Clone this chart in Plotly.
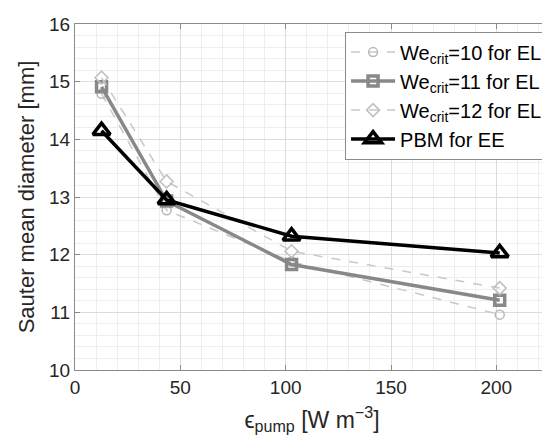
import plotly.graph_objects as go

x_pts = [12.6, 43.5, 102.8, 201.6]
we10 = [14.79, 12.77, 11.88, 10.96]
we11 = [14.91, 12.93, 11.83, 11.21]
we12 = [15.07, 13.27, 12.06, 11.42]
pbm = [14.15, 12.95, 12.32, 12.03]

names = ["We<sub>crit</sub>=10 for EL", "We<sub>crit</sub>=11 for EL",
         "We<sub>crit</sub>=12 for EL", "PBM for EE"]

FONT = "Liberation Sans, Arial, sans-serif"
fig = go.Figure()
fig.add_trace(go.Scatter(x=x_pts, y=we10, name=names[0], mode="lines+markers",
                         line=dict(color="#c8c8c8", width=1.5, dash="dash"),
                         marker=dict(symbol="circle-open", size=9, color="#b8b8b8", line=dict(width=1.5))))
fig.add_trace(go.Scatter(x=x_pts, y=we11, name=names[1], mode="lines+markers",
                         line=dict(color="#888888", width=3.5),
                         marker=dict(symbol="square-open", size=10, color="#888888", line=dict(width=3.5))))
fig.add_trace(go.Scatter(x=x_pts, y=we12, name=names[2], mode="lines+markers",
                         line=dict(color="#c8c8c8", width=1.5, dash="dash"),
                         marker=dict(symbol="diamond-open", size=10, color="#c0c0c0", line=dict(width=1.5))))
fig.add_trace(go.Scatter(x=x_pts, y=pbm, name=names[3], mode="lines+markers",
                         line=dict(color="#000000", width=3.5),
                         marker=dict(symbol="triangle-up-open", size=15, color="#000000", line=dict(width=3.5))))

axis_common = dict(showline=True, linecolor="#8a8a8a", linewidth=1.2, mirror="ticks",
                   ticks="inside", ticklen=5, tickcolor="#8a8a8a", automargin=False,
                   showgrid=True, gridcolor="#dcdcdc", gridwidth=1,
                   zeroline=False, tickfont=dict(size=19, color="#262626", family=FONT))

fig.update_xaxes(range=[0, 225], tickvals=[0, 50, 100, 150, 200],
                 minor=dict(dtick=10, showgrid=True, gridcolor="#eeeeee", gridwidth=1, ticks=""),
                 title=dict(text="ϵ<sub>pump</sub> [W m<sup>−3</sup>]", font=dict(size=23, color="#262626", family=FONT),
                            standoff=14),
                 **axis_common)
fig.update_yaxes(range=[10, 16], tickvals=[10, 11, 12, 13, 14, 15, 16],
                 minor=dict(dtick=0.2, showgrid=True, gridcolor="#eeeeee", gridwidth=1, ticks=""),
                 title=dict(text="Sauter mean diameter [mm]", font=dict(size=22, color="#262626", family=FONT),
                            standoff=8),
                 **axis_common)

fig.update_layout(
    width=550, height=446,
    margin=dict(l=67, r=9, t=16, b=84),
    plot_bgcolor="white", paper_bgcolor="white",
    font=dict(family=FONT, color="#262626"),
    legend=dict(x=0.998, y=0.978, xanchor="right", yanchor="top",
                bgcolor="white", bordercolor="#8a8a8a", borderwidth=1,
                font=dict(size=20, family=FONT, color="#000000"),
                tracegroupgap=0, itemwidth=44),
    showlegend=True,
)

fig.write_html("out.html")
